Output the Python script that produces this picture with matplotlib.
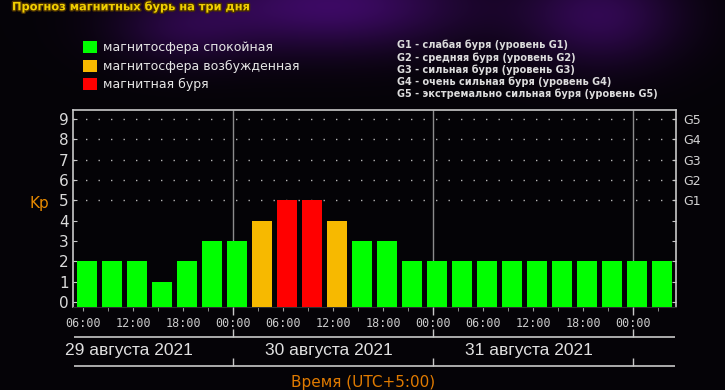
import numpy as np
import matplotlib.pyplot as plt
import matplotlib.patheffects as pe
from matplotlib.patches import Patch

# Kp forecast, 3-hour steps starting 29 Aug 06:00 (UTC+5)
kp_values = [2, 2, 2, 1, 2, 3, 3, 4, 5, 5, 4, 3, 3, 2, 2, 2, 2, 2, 2, 2, 2, 2, 2, 2]
bar_hours = list(range(6, 6 + 3 * len(kp_values), 3))  # hours since 29 Aug 00:00
tick_hours = list(range(6, 73, 6))
tick_labels = ['%02d:00' % (h % 24) for h in tick_hours]
day_starts = [24, 48, 72]
date_hours = [12, 36, 60]
date_labels = ['29 августа 2021', '30 августа 2021', '31 августа 2021']

state_labels = ['магнитосфера спокойная', 'магнитосфера возбужденная', 'магнитная буря']
state_colors = ['#00ff00', '#f7b900', '#ff0000']

g_levels = [5, 6, 7, 8, 9]
g_labels = ['G1', 'G2', 'G3', 'G4', 'G5']
g_descr = ['G1 - слабая буря (уровень G1)',
           'G2 - средняя буря (уровень G2)',
           'G3 - сильная буря (уровень G3)',
           'G4 - очень сильная буря (уровень G4)',
           'G5 - экстремально сильная буря (уровень G5)']

title = 'Прогноз магнитных бурь на три дня'

W, H = 725, 390
fig = plt.figure(figsize=(W / 100, H / 100), dpi=100, facecolor='#050307')

# background: dark sky with a purple glow at the top
yy, xx = np.mgrid[0:H, 0:W]
glow = (0.9 * np.exp(-((xx - 330) / 140.0) ** 2 - ((yy - 5) / 45.0) ** 2)
        + 0.7 * np.exp(-((xx - 600) / 80.0) ** 2 - ((yy - 15) / 50.0) ** 2)
        + 0.4 * np.exp(-((xx - 180) / 70.0) ** 2 - ((yy - 30) / 35.0) ** 2))
img = np.zeros((H, W, 3))
img[..., 0] = 0.02 + 0.24 * glow
img[..., 1] = 0.012 + 0.03 * glow
img[..., 2] = 0.03 + 0.40 * glow
bg = fig.add_axes([0, 0, 1, 1], zorder=-10)
bg.imshow(np.clip(img, 0, 1), aspect='auto')
bg.axis('off')

def px(x, y):
    return x / W, 1 - y / H

x0, x1 = 4.8, 77.16
y0, y1 = -0.25, 9.45

ax = fig.add_axes([73 / W, 1 - 307 / H, 603 / W, 197 / H])
ax.set_facecolor('#040306')
ax.set_xlim(x0, x1)
ax.set_ylim(y0, y1)

colors = [state_colors[0] if v <= 3 else state_colors[1] if v == 4 else state_colors[2]
          for v in kp_values]
ax.bar(np.array(bar_hours) + 0.48, np.array(kp_values) - y0, bottom=y0, width=2.4,
       color=colors, zorder=3)

ax.vlines(day_starts, y0, y1, color='#8c8c8c', lw=1, zorder=1)
for g in g_levels:
    ax.axhline(g, color='#b4b4b4', lw=1, ls=(0, (1, 8)), zorder=0.5)

for s in ['left', 'right', 'top']:
    ax.spines[s].set_color('#c8c8c8')
    ax.spines[s].set_linewidth(1.2)
ax.spines['bottom'].set_color('#303030')

ax.set_yticks(range(10))
ax.tick_params(axis='y', direction='in', length=3, color='#c8c8c8',
               labelcolor='#dadada', labelsize=11, pad=3)
ax.set_xticks(tick_hours, tick_labels)
ax.set_xticks(bar_hours, minor=True)
ax.tick_params(axis='x', which='both', direction='out', length=3, color='#a0a0a0',
               labelcolor='#cccccc', labelsize=8.5, pad=4)
for lbl in ax.get_xticklabels():
    lbl.set_family('DejaVu Sans Mono')

ax2 = ax.twinx()
ax2.set_ylim(y0, y1)
ax2.set_yticks(range(10), [''] * 5 + g_labels)
ax2.tick_params(axis='y', direction='in', length=3, color='#c8c8c8',
                labelcolor='#d4d4d4', labelsize=9, pad=5)
for s in ax2.spines.values():
    s.set_visible(False)

# date band under the time axis
dax = fig.add_axes([73 / W, 0, 603 / W, 1 - 300 / H], zorder=2)
dax.patch.set_alpha(0)
dax.set_xlim(x0, x1)
dax.set_ylim(390, 300)
dax.axis('off')
dax.hlines([337, 366], x0 + 0.1, x1 - 0.1, color='#c8c8c8', lw=1.2)
dax.vlines(day_starts, 307, 315, color='#c8c8c8', lw=1)
dax.vlines(day_starts, 329, 337, color='#c8c8c8', lw=1)
dax.vlines(day_starts, 358, 366, color='#c8c8c8', lw=1)
for h, lab in zip(date_hours, date_labels):
    dax.text(h - 0.5, 351, lab, color='#e0e0e0', fontsize=12.5, ha='center', va='center',
             family='Liberation Sans', clip_on=False)

fig.text(*px(363, 382), 'Время (UTC+5:00)', color='#e07a00', fontsize=11,
         ha='center', va='center')
fig.text(*px(39, 203), 'Kp', color='#e88a00', fontsize=11, ha='center', va='center')

fig.text(*px(12, 7), title, color='#f2d000', fontsize=8.2, fontweight='bold',
         va='center', path_effects=[pe.withStroke(linewidth=2, foreground='#4a3000')])

handles = [Patch(facecolor=c, edgecolor='none') for c in state_colors]
fig.legend(handles, state_labels, loc='upper left', bbox_to_anchor=px(83, 41),
           frameon=False, fontsize=9, labelcolor='#e6e6e6', handlelength=1.1,
           handleheight=1.1, handletextpad=0.5, labelspacing=0.42,
           borderpad=0, borderaxespad=0)

fig.text(*px(397, 40), '\n'.join(g_descr), color='#dcdcdc', fontsize=7,
         fontweight='bold', va='top', linespacing=1.18)

fig.savefig('out.png', dpi=100, facecolor=fig.get_facecolor())
